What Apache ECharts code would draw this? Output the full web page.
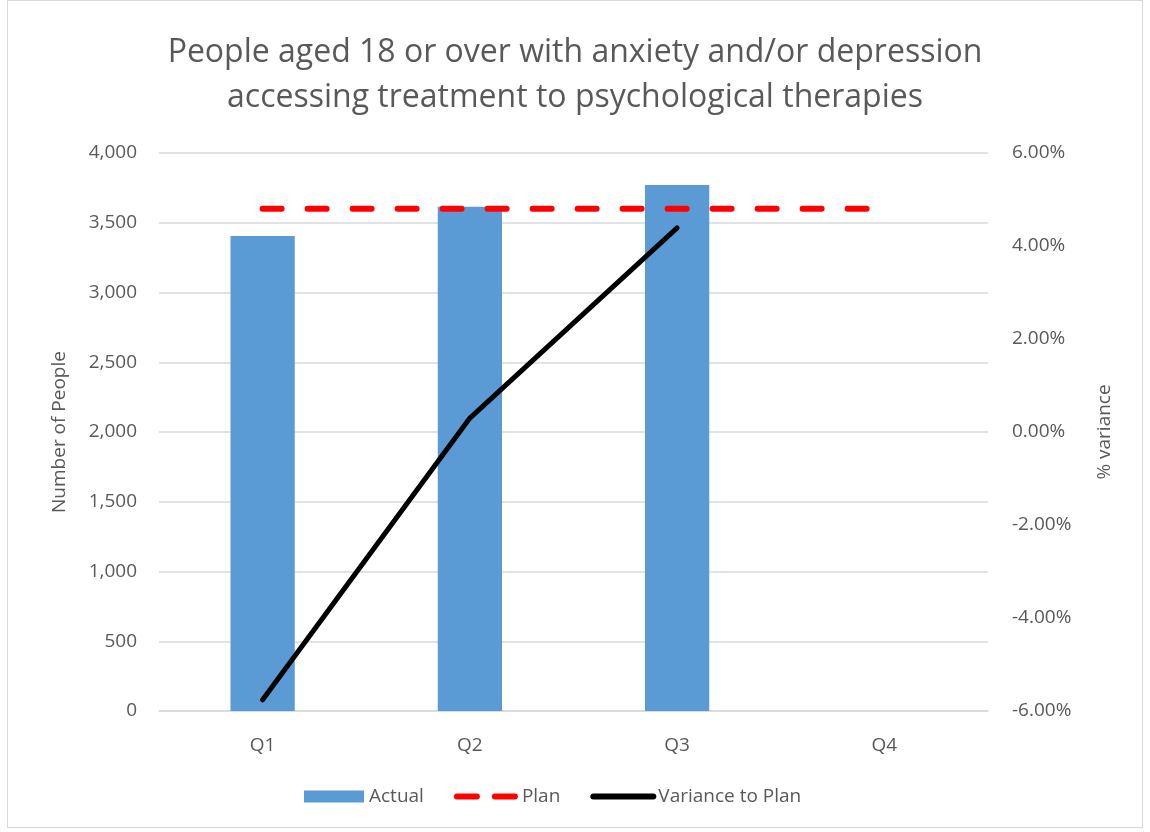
<!DOCTYPE html>
<html>
<head>
<meta charset="utf-8">
<script src="https://cdn.jsdelivr.net/npm/echarts@6/dist/echarts.min.js"></script>
<style>
  html, body { margin: 0; padding: 0; background: #fff; }
  #chart { position: absolute; left: 7px; top: 0; width: 1136px; height: 828px; border: 1px solid #d9d9d9; box-sizing: border-box; }
</style>
</head>
<body>
<div id="chart"></div>
<script>
// 数据
const categories = ['Q1', 'Q2', 'Q3', 'Q4'];
const actual = [3405, 3615, 3770, null];
const plan = [3600, 3600, 3600, 3600];
const variance = [-5.76, 0.3, 4.39, null];

const textColor = '#595959';
const font = 'Open Sans';
const noDot = { color: 'rgba(0,0,0,0)', borderColor: 'rgba(0,0,0,0)', borderWidth: 0 };

let myChart = echarts.init(document.getElementById('chart'));
let option = {
    backgroundColor: '#fff',
    textStyle: { fontFamily: font },
    title: {
        text: 'People aged 18 or over with anxiety and/or depression\naccessing treatment to psychological therapies',
        left: 'center',
        top: 24,
        textStyle: {
            color: textColor,
            fontSize: 32,
            fontWeight: 'normal',
            fontFamily: font,
            lineHeight: 45,
        },
    },
    grid: {
        left: 151,
        right: 154,
        top: 152,
        bottom: 116,
    },
    legend: {
        bottom: 16,
        left: 291,
        itemWidth: 60,
        itemHeight: 12,
        itemGap: 30,
        textStyle: { color: textColor, fontSize: 19, fontFamily: font },
        data: [
            { name: 'Actual', icon: 'rect' },
            { name: 'Plan', itemStyle: noDot, lineStyle: { color: '#ff0000', width: 6, type: [20, 18], cap: 'round' } },
            { name: 'Variance to Plan', itemStyle: noDot, lineStyle: { color: '#000', width: 6, cap: 'round' } },
        ],
    },
    xAxis: {
        type: 'category',
        data: categories,
        axisLine: { show: true, lineStyle: { color: '#d9d9d9', width: 1.5 } },
        axisTick: { show: false },
        axisLabel: { margin: 25, color: textColor, fontSize: 19 },
    },
    yAxis: [{
        type: 'value',
        min: 0,
        max: 4000,
        interval: 500,
        name: 'Number of People',
        nameLocation: 'middle',
        nameGap: 90,
        nameTextStyle: { color: textColor, fontSize: 19 },
        axisLine: { show: false },
        axisTick: { show: false },
        axisLabel: {
            margin: 22,
            color: textColor,
            fontSize: 19,
            formatter: v => v.toLocaleString('en-US'),
        },
        splitLine: { show: true, lineStyle: { color: '#d9d9d9', width: 1.5 } },
    }, {
        type: 'value',
        min: -6,
        max: 6,
        interval: 2,
        name: '% variance',
        nameLocation: 'middle',
        nameGap: 107,
        nameTextStyle: { color: textColor, fontSize: 19 },
        axisLine: { show: false },
        axisTick: { show: false },
        axisLabel: {
            margin: 24,
            color: textColor,
            fontSize: 19,
            formatter: v => v.toFixed(2) + '%',
        },
        splitLine: { show: false },
    }],
    series: [
        {
            name: 'Actual',
            type: 'bar',
            data: actual,
            barWidth: '31%',
            itemStyle: { color: '#5b9bd5' },
        },
        {
            name: 'Plan',
            type: 'line',
            data: plan,
            symbol: 'none',
            lineStyle: { color: '#ff0000', width: 6, type: [19, 26], cap: 'round' },
            itemStyle: { color: '#ff0000' },
            z: 3,
        },
        {
            name: 'Variance to Plan',
            type: 'line',
            yAxisIndex: 1,
            data: variance,
            symbol: 'none',
            lineStyle: { color: '#000', width: 5, cap: 'round' },
            itemStyle: { color: '#000' },
            z: 4,
        },
    ],
};
option && myChart.setOption(option);
</script>
</body>
</html>
